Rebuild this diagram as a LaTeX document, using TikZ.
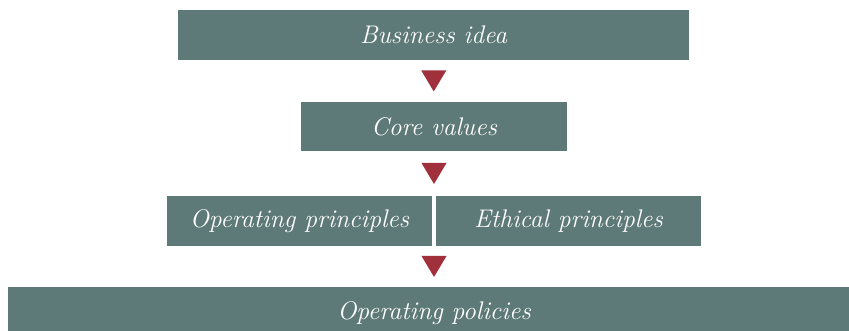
\documentclass[tikz,border=0pt]{standalone}
\usepackage{fontspec}
\usetikzlibrary{calc}
\definecolor{boxgreen}{HTML}{5E7A78}
\definecolor{arrowred}{HTML}{A1303D}
\tikzset{
    block/.style={fill=boxgreen, text=white, inner sep=0pt, minimum height=50pt,
        font=\fontsize{25.5}{30}\selectfont\itshape\addfontfeatures{LetterSpace=4}},
}
\begin{document}
\begin{tikzpicture}[x=1pt, y=-1pt]
        \useasboundingbox (0, 0) rectangle (849, 331);
        \clip (0, 0) rectangle (849, 331);
        \node (idea) at (433.5, 35)[block, minimum width=511pt]{Business idea};
        \node (values) at (434, 126.5)[block, minimum width=266pt, minimum height=49pt]{Core values};
        \node (operating) at (299.5, 221)[block, minimum width=265pt]{Operating principles};
        \node (ethical) at (568.5, 221)[block, minimum width=265pt]{Ethical principles};
        \node (policies) at (434, 313)[block, minimum width=852pt, minimum height=52pt]{Operating policies};
        \coordinate (jointtop) at ($(operating.north east)!0.5!(ethical.north west)$);
        \coordinate (jointbottom) at ($(operating.south east)!0.5!(ethical.south west)$);
        \foreach \a/\b in {idea.south/values.north, values.south/jointtop, jointbottom/policies.north} {
            \coordinate (t) at ($(\a)!0.5!(\b)$);
            \fill[arrowred] ($(t)+(-12.5, -10.5)$) -- +(25, 0) -- ($(t)+(0, 10.5)$) -- cycle;
        }
    \end{tikzpicture}
\end{document}
